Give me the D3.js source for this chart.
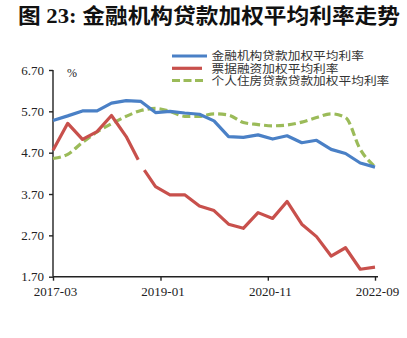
<!DOCTYPE html>
<html><head><meta charset="utf-8">
<script src="https://cdn.jsdelivr.net/npm/d3@7"></script>
<style>html,body{margin:0;padding:0;background:#fff;}svg{display:block;}</style>
</head><body>
<svg id="c" width="407" height="338"></svg>
<script>
const dates = ["2017-03","2017-06","2017-09","2017-12","2018-03","2018-06","2018-09","2018-12",
  "2019-03","2019-06","2019-09","2019-12","2020-03","2020-06","2020-09","2020-12",
  "2021-03","2021-06","2021-09","2021-12","2022-03","2022-06","2022-09"];
const loanRate = [5.48,5.59,5.71,5.71,5.90,5.96,5.94,5.67,5.70,5.66,5.63,5.47,5.09,5.07,5.13,5.03,5.11,4.94,5.00,4.78,4.68,4.45,4.35];
const billRate = [4.76,5.41,5.02,5.21,5.60,5.09,4.40,3.88,3.68,3.68,3.41,3.30,2.97,2.87,3.25,3.11,3.52,2.97,2.67,2.20,2.40,1.88,1.93];
const mortgageRate = [4.56,4.66,4.95,5.20,5.40,5.58,5.72,5.77,5.70,5.58,5.58,5.64,5.61,5.43,5.38,5.35,5.37,5.44,5.55,5.64,5.55,4.78,4.36];
const yTicks = [1.70,2.70,3.70,4.70,5.70,6.70];
const xTickLabels = ["2017-03","2019-01","2020-11","2022-09"];
const seriesNames = ["金融机构贷款加权平均利率","票据融资加权平均利率","个人住房贷款贷款加权平均利率"];
const title = "图 23: 金融机构贷款加权平均利率走势";

const parse = d3.timeParse("%Y-%m");
const svg = d3.select("#c");
const x = d3.scaleTime().domain([parse("2017-03"), parse("2022-09")]).range([53, 375]);
const y = d3.scaleLinear().domain([1.7, 6.7]).range([276.7, 70]);
const serif = "'Liberation Serif','Times New Roman',serif";
const cjk = "'Noto Sans CJK SC','Noto Sans',sans-serif";

svg.append("text").attr("x", 18).attr("y", 23)
  .attr("font-family", "'Liberation Serif','Noto Sans CJK SC',serif")
  .attr("font-weight", "bold").attr("font-size", 21).attr("fill", "#111")
  .attr("textLength", 382).attr("lengthAdjust", "spacingAndGlyphs")
  .text(title);

// axes
const yAxis = svg.append("g").attr("transform", "translate(53,0)")
  .call(d3.axisLeft(y).tickValues(yTicks).tickFormat(d3.format(".2f")).tickSize(4).tickPadding(5));
const xAxis = svg.append("g").attr("transform", "translate(0,276.7)")
  .call(d3.axisBottom(x).tickValues(xTickLabels.map(parse)).tickFormat(d3.timeFormat("%Y-%m")).tickSize(4).tickPadding(6));
[yAxis, xAxis].forEach(g => {
  g.select(".domain").attr("stroke", "#222").attr("stroke-width", 1.4);
  g.selectAll(".tick line").attr("stroke", "#222").attr("stroke-width", 1.4);
  g.selectAll("text").attr("font-family", serif).attr("font-size", 13).attr("fill", "#222");
});
yAxis.select(".domain").attr("d", "M-0,70V276.7");
xAxis.select(".domain").attr("d", "M53,0H378");
xAxis.selectAll(".tick text").attr("dx", 2);

svg.append("text").attr("x", 67).attr("y", 77).attr("font-family", serif)
  .attr("font-size", 12).attr("fill", "#222").text("%");

const pts = arr => arr.map((v, i) => [x(parse(dates[i])), y(v)]);
const line = d3.line();
const colors = ["#4a80c6", "#c8504c", "#9bbb59"];

// green
svg.append("path").attr("d", d3.line().curve(d3.curveMonotoneX)(pts(mortgageRate)))
  .attr("fill", "none").attr("stroke", colors[2]).attr("stroke-width", 3.2)
  .attr("stroke-dasharray", "8,4");
// blue
svg.append("path").attr("d", line(pts(loanRate)))
  .attr("fill", "none").attr("stroke", colors[0]).attr("stroke-width", 3.2)
  .attr("stroke-linejoin", "round");
// red with break around 2018-09
const redPath = svg.append("path").attr("d", line(pts(billRate)))
  .attr("fill", "none").attr("stroke", colors[1]).attr("stroke-width", 3.2)
  .attr("stroke-linejoin", "round");
const meas = svg.append("path").attr("d", line(pts(billRate).slice(0, 7))).attr("fill", "none");
const L6 = meas.node().getTotalLength();
meas.remove();
const total = redPath.node().getTotalLength();
redPath.attr("stroke-dasharray", `${L6 - 6} 12 ${total}`);

// legend
const lg = svg.append("g");
const rows = [56, 68.3, 80.5];
const ends = [207, 202, 204];
seriesNames.forEach((n, i) => {
  const l = lg.append("line").attr("x1", 172).attr("x2", ends[i]).attr("y1", rows[i]).attr("y2", rows[i])
    .attr("stroke", colors[i]).attr("stroke-width", 3.2);
  if (i === 2) l.attr("stroke-dasharray", "8,3.5");
  lg.append("text").attr("x", 211.5).attr("y", rows[i]).attr("dy", "0.36em")
    .attr("font-family", cjk).attr("font-size", 11.8).attr("fill", "#333")
    .attr("textLength", n.length * 12.7).attr("lengthAdjust", "spacingAndGlyphs")
    .text(n);
});
</script>
</body></html>
